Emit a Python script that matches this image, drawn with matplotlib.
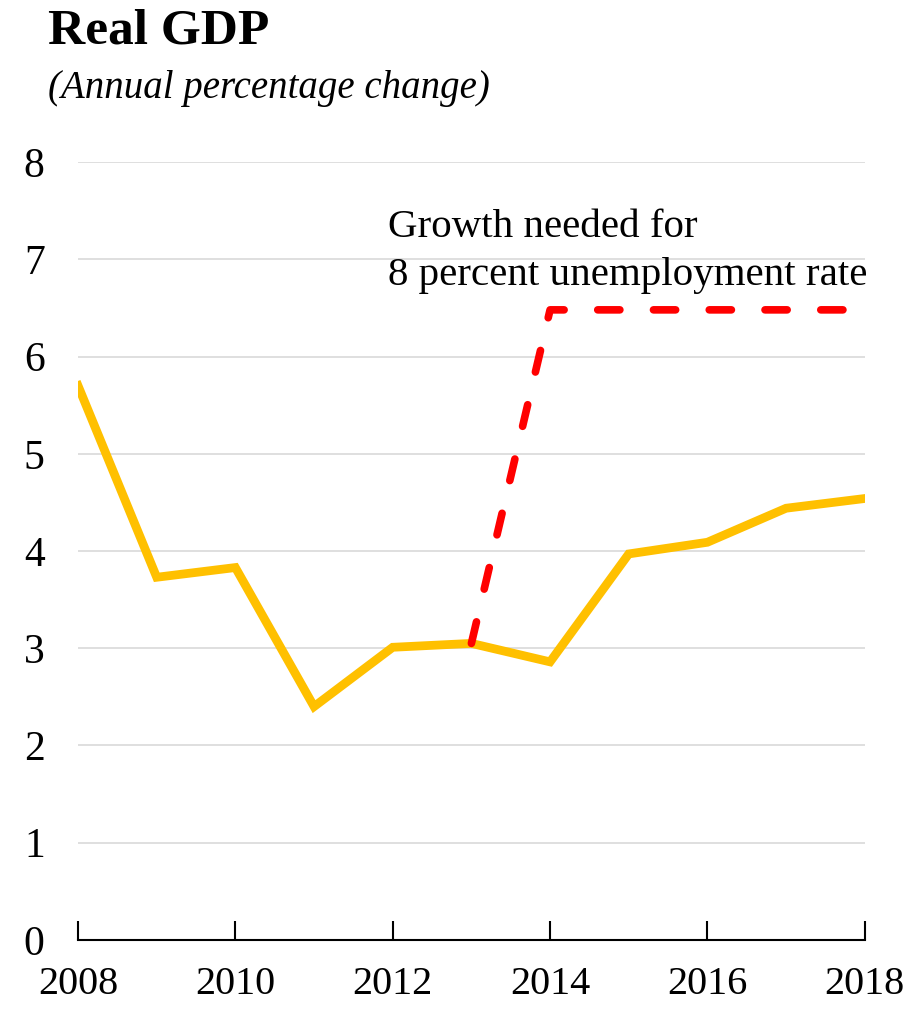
import matplotlib.pyplot as plt

years = [2008, 2009, 2010, 2011, 2012, 2013, 2014, 2015, 2016, 2017, 2018]
gdp = [5.70, 3.73, 3.83, 2.40, 3.01, 3.05, 2.86, 3.97, 4.09, 4.44, 4.54]

needed_years = [2013, 2014, 2015, 2016, 2017, 2018]
needed = [3.05, 6.48, 6.48, 6.48, 6.48, 6.48]

xticks = [2008, 2010, 2012, 2014, 2016, 2018]
yticks = [0, 1, 2, 3, 4, 5, 6, 7, 8]

plt.rcParams['font.family'] = ['Liberation Serif', 'DejaVu Serif']

fig = plt.figure(figsize=(9.18, 10.09), dpi=100)
ax = fig.add_axes([0.085, 0.0684, 0.857, 0.771])

ax.plot(years, gdp, color='#FFC000', lw=6.3, solid_joinstyle='miter', zorder=3)
ax.plot(needed_years, needed, color='#FF0000', lw=5.5, dashes=(2.9, 4.4),
        dash_capstyle='round', zorder=4)

ax.set_xlim(2008, 2018)
ax.set_ylim(0, 8)
ax.set_xticks(xticks)
ax.set_yticks(yticks)
ax.grid(axis='y', color='#d9d9d9', lw=1.2)
ax.set_axisbelow(True)

for s in ['left', 'right', 'top']:
    ax.spines[s].set_visible(False)
ax.spines['bottom'].set_linewidth(1.5)
ax.spines['bottom'].set_zorder(5)

ax.tick_params(axis='x', direction='in', length=14, width=1.5, pad=19, labelsize=29)
ax.tick_params(axis='y', length=0, pad=24, labelsize=30)

ax.text(2011.94, 7.23, 'Growth needed for', fontsize=29.5, va='baseline')
ax.text(2011.94, 6.74, '8 percent unemployment rate', fontsize=29.5, va='baseline')

fig.text(0.052, 0.957, 'Real GDP', fontsize=37, fontweight='bold', va='baseline')
fig.text(0.052, 0.903, '(Annual percentage change)', fontsize=28, style='italic', va='baseline')

plt.savefig('out.png')
